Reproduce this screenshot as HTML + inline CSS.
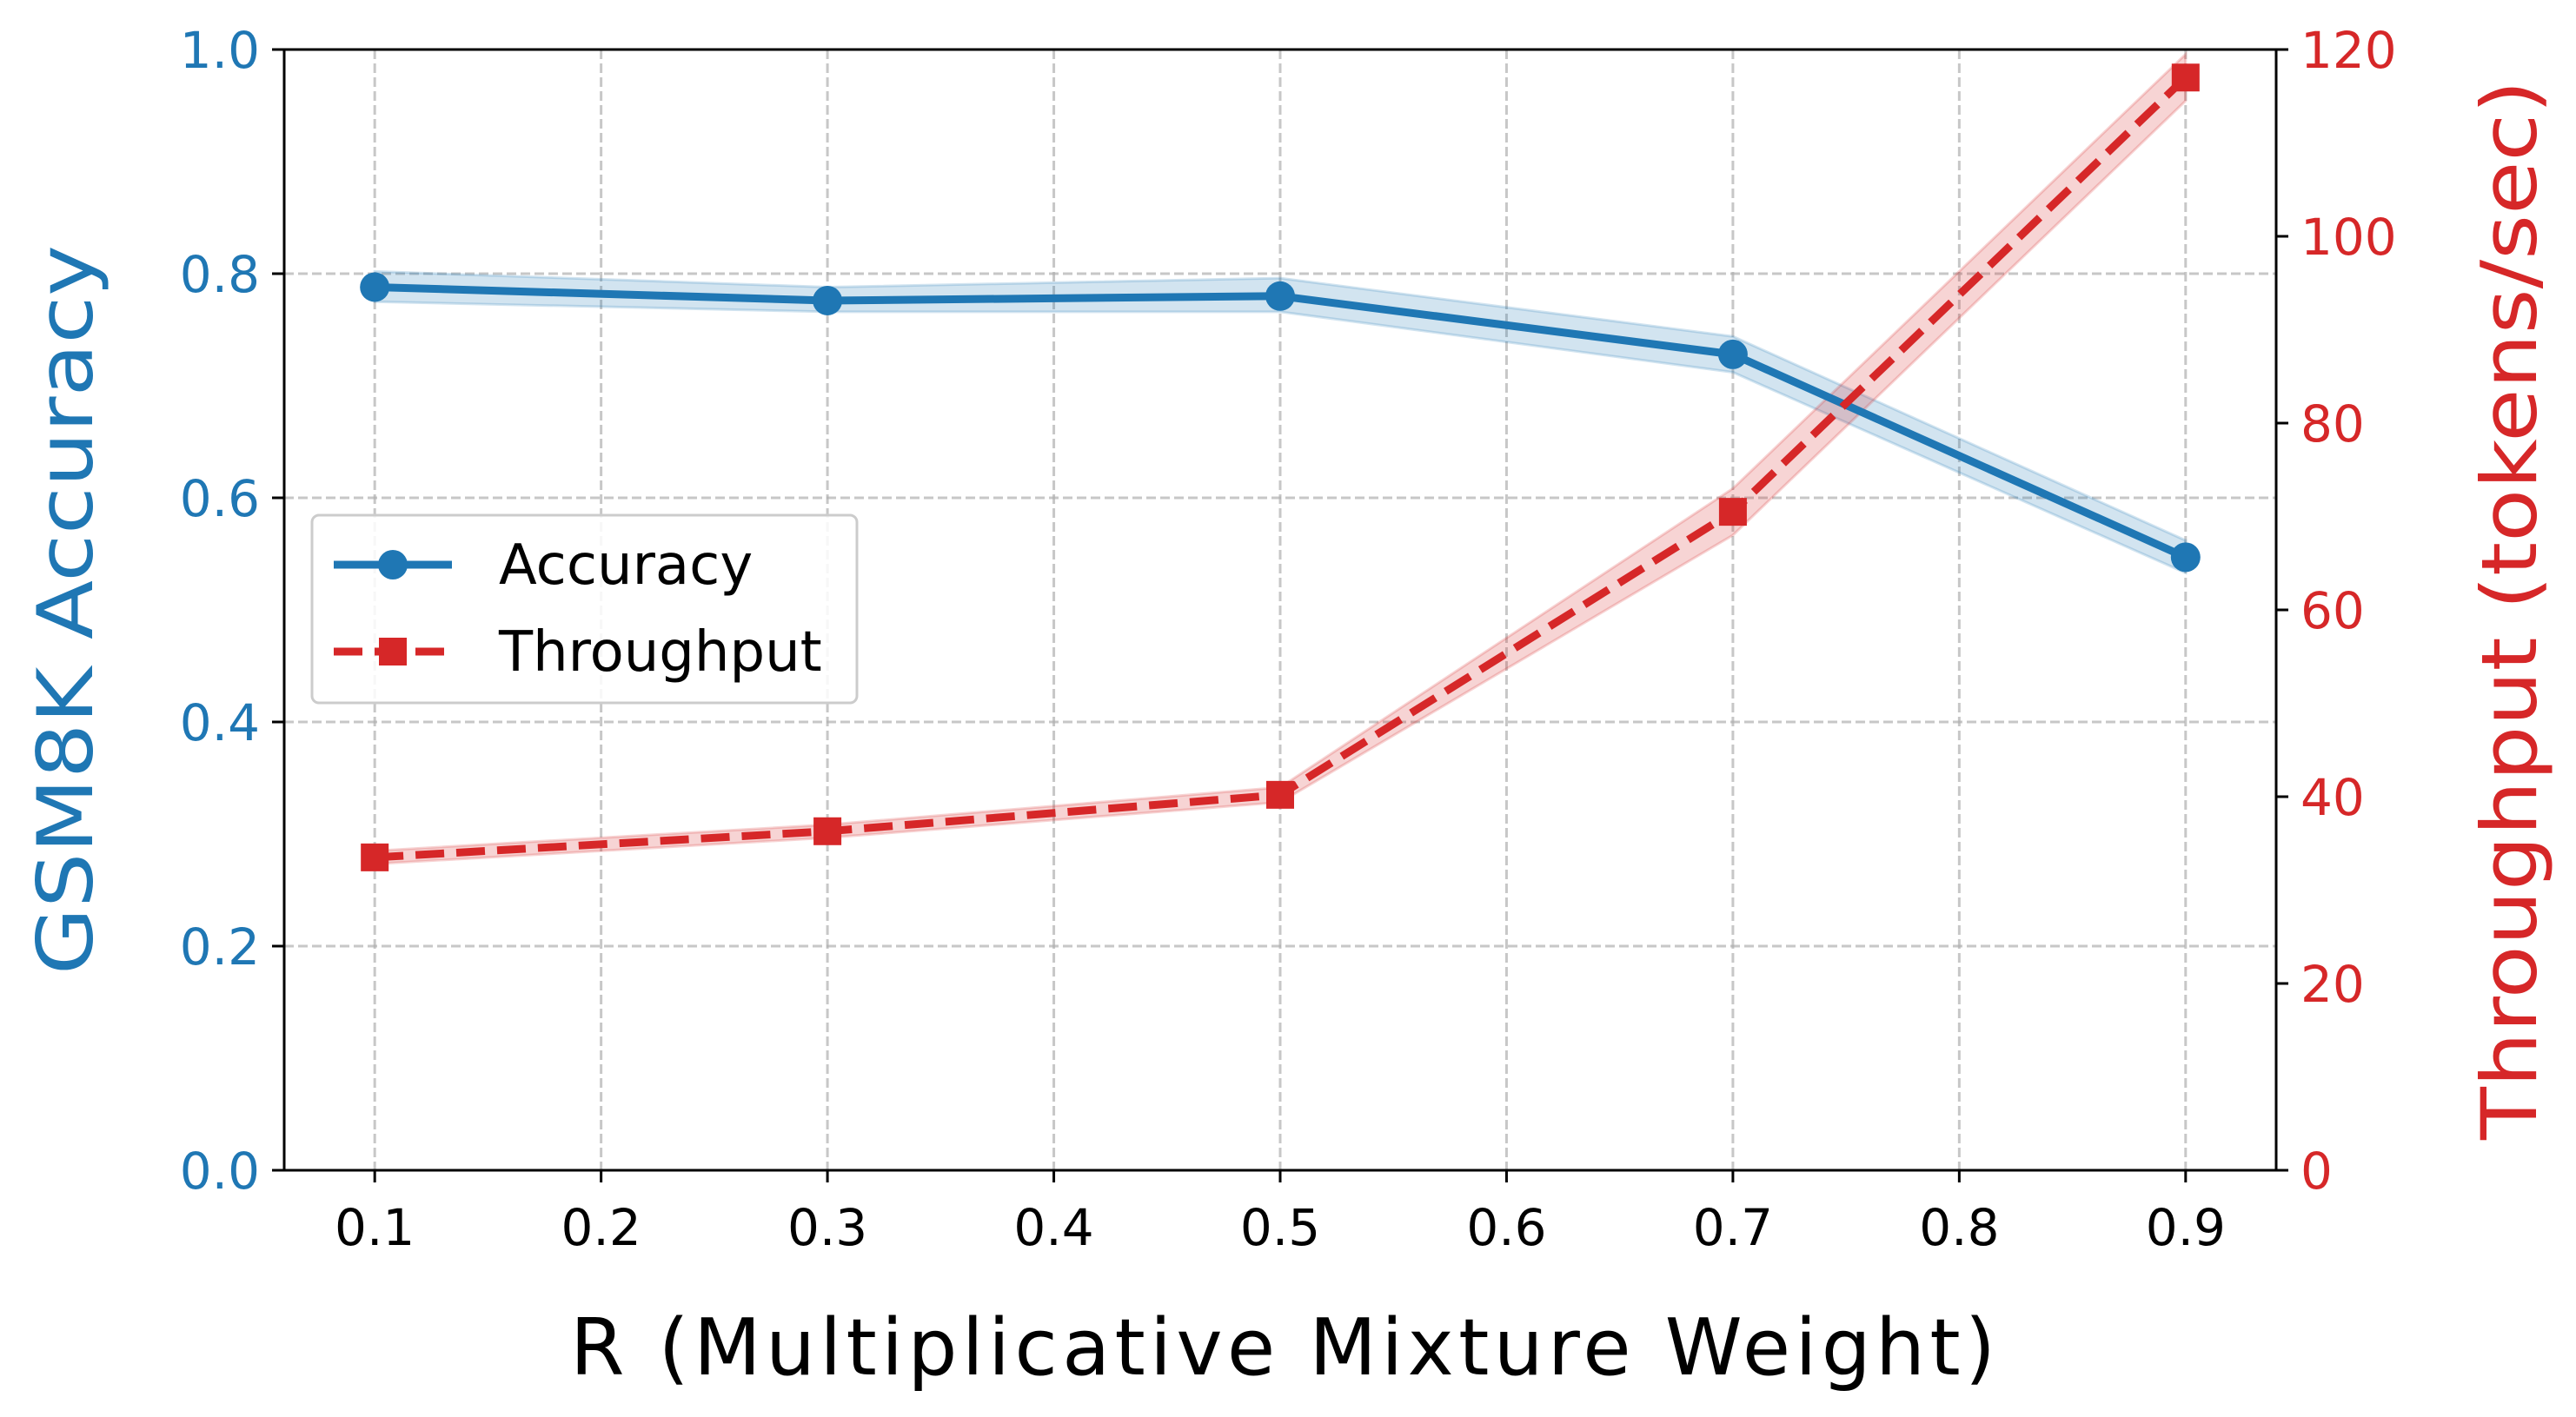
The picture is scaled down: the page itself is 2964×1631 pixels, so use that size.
<!DOCTYPE html>
<html><head><meta charset="utf-8"><style>
html,body{margin:0;padding:0;background:#fff;}
svg{display:block;font-family:"DejaVu Sans","Liberation Sans",sans-serif;}
</style></head><body>
<svg id="chart" width="2964" height="1631" viewBox="0 0 2964 1631">
<g id="grid"></g>
<g id="bands"></g>
<g id="series"></g>
<g id="axes"></g>
</svg>
<script>
const xCats = [0.1, 0.3, 0.5, 0.7, 0.9];
const accuracy = [0.788, 0.776, 0.780, 0.728, 0.547];
const accLow = [0.775, 0.766, 0.766, 0.712, 0.533];
const accHigh = [0.802, 0.788, 0.796, 0.744, 0.562];
const throughput = [33.5, 36.3, 40.2, 70.5, 117.0];
const thrLow = [32.8, 35.6, 39.4, 68.0, 114.5];
const thrHigh = [34.2, 37.0, 41.0, 73.0, 119.5];
const xTicks = [0.1,0.2,0.3,0.4,0.5,0.6,0.7,0.8,0.9];
const xTickLabels = ["0.1","0.2","0.3","0.4","0.5","0.6","0.7","0.8","0.9"];
const yTicks = [0,0.2,0.4,0.6,0.8,1.0];
const yTickLabels = ["0.0","0.2","0.4","0.6","0.8","1.0"];
const y2Ticks = [0,20,40,60,80,100,120];
const y2TickLabels = ["0","20","40","60","80","100","120"];

const L=327,R=2619,T=57,B=1347;
const BLUE="#1f77b4", RED="#d62728";
const xs=v=>L+(v-0.06)/(0.88)*(R-L);
const ys=v=>B-(v-0)/1.0*(B-T);
const y2s=v=>B-v/120*(B-T);
const NS="http://www.w3.org/2000/svg";
function mk(tag,attrs,parent,text){const e=document.createElementNS(NS,tag);for(const k in attrs)e.setAttribute(k,attrs[k]);if(text!==undefined)e.textContent=text;parent.appendChild(e);return e;}
const grid=document.getElementById('grid'),bands=document.getElementById('bands'),series=document.getElementById('series'),axes=document.getElementById('axes');

xTicks.forEach((t,i)=>{
  const g=mk('line',{x1:xs(t),x2:xs(t),y1:T,y2:B,stroke:"#b0b0b0","stroke-width":3,"stroke-dasharray":"11 5",opacity:0.7},grid);
  
  
});
yTicks.forEach((t,i)=>{
  const g=mk('line',{x1:L,x2:R,y1:ys(t),y2:ys(t),stroke:"#b0b0b0","stroke-width":3,"stroke-dasharray":"11 5",opacity:0.7},grid);
  
  
});

function band(lo,hi,sc,color,name){
  let d="M"+xCats.map((x,i)=>xs(x)+","+sc(hi[i])).join(" L");
  d+=" L"+xCats.slice().reverse().map((x,j)=>{const i=xCats.length-1-j;return xs(x)+","+sc(lo[i]);}).join(" L")+" Z";
  const p=mk('path',{d:d,fill:color,"fill-opacity":0.2,stroke:color,"stroke-opacity":0.2,"stroke-width":3},bands);
  
  
}
band(accLow,accHigh,ys,BLUE,'accuracy-band');
band(thrLow,thrHigh,y2s,RED,'throughput-band');

const accPts=xCats.map((x,i)=>xs(x)+","+ys(accuracy[i])).join(" ");
const al=mk('polyline',{points:accPts,fill:"none",stroke:BLUE,"stroke-width":9,"stroke-linejoin":"round"},series);


xCats.forEach((x,i)=>{
  const c=mk('circle',{cx:xs(x),cy:ys(accuracy[i]),r:17,fill:BLUE},series);
  
  
});
const thrPts=xCats.map((x,i)=>xs(x)+","+y2s(throughput[i])).join(" ");
const tl=mk('polyline',{points:thrPts,fill:"none",stroke:RED,"stroke-width":9,"stroke-dasharray":"33 14"},series);


xCats.forEach((x,i)=>{
  const s=mk('rect',{x:xs(x)-16,y:y2s(throughput[i])-16,width:32,height:32,fill:RED},series);
  
  
});

const sp=mk('rect',{x:L,y:T,width:R-L,height:B-T,fill:"none",stroke:"#000","stroke-width":3},axes);



xTicks.forEach((t,i)=>{
  const tk=mk('line',{x1:xs(t),x2:xs(t),y1:B,y2:B+14,stroke:"#000","stroke-width":3},axes);
  
  
  const lb=mk('text',{x:xs(t),y:B+86,"text-anchor":"middle","font-size":58,fill:"#000"},axes,xTickLabels[i]);
  
  
});
yTicks.forEach((t,i)=>{
  const tk=mk('line',{x1:L-14,x2:L,y1:ys(t),y2:ys(t),stroke:"#000","stroke-width":3},axes);
  
  
  const lb=mk('text',{x:L-28,y:ys(t)+21,"text-anchor":"end","font-size":58,fill:BLUE},axes,yTickLabels[i]);
  
  
});
y2Ticks.forEach((t,i)=>{
  const tk=mk('line',{x1:R,x2:R+14,y1:y2s(t),y2:y2s(t),stroke:"#000","stroke-width":3},axes);
  
  
  const lb=mk('text',{x:R+28,y:y2s(t)+21,"text-anchor":"start","font-size":58,fill:RED},axes,y2TickLabels[i]);
  
  
});
</script>
<div style="position:absolute;left:0;top:0;width:2964px;height:1631px;pointer-events:none">
<svg width="2964" height="1631" style="position:absolute;left:0;top:0">
<text x="1476" y="1582" text-anchor="middle" font-size="90" fill="#000" textLength="1640" lengthAdjust="spacing">R (Multiplicative Mixture Weight)</text>
<text transform="translate(106,702) rotate(-90)" text-anchor="middle" font-size="88" fill="#1f77b4" textLength="840" lengthAdjust="spacingAndGlyphs">GSM8K Accuracy</text>
<text transform="translate(2918,702) rotate(-90)" text-anchor="middle" font-size="88" fill="#d62728" textLength="1220" lengthAdjust="spacingAndGlyphs">Throughput (tokens/sec)</text>
<g>
<rect x="359" y="593" width="627" height="216" rx="8" fill="#fff" fill-opacity="0.85" stroke="#ccc" stroke-width="3"/>
<g>
<line x1="384" y1="650" x2="520" y2="650" stroke="#1f77b4" stroke-width="9"/>
<circle cx="452" cy="650" r="17" fill="#1f77b4"/>
<text x="574" y="672" font-size="64" fill="#000">Accuracy</text>
</g>
<g>
<line x1="384" y1="750" x2="520" y2="750" stroke="#d62728" stroke-width="9" stroke-dasharray="33 14"/>
<rect x="436" y="734" width="32" height="32" fill="#d62728"/>
<text x="574" y="772" font-size="64" fill="#000">Throughput</text>
</g>
</g>
</svg>
</div>
</body></html>
